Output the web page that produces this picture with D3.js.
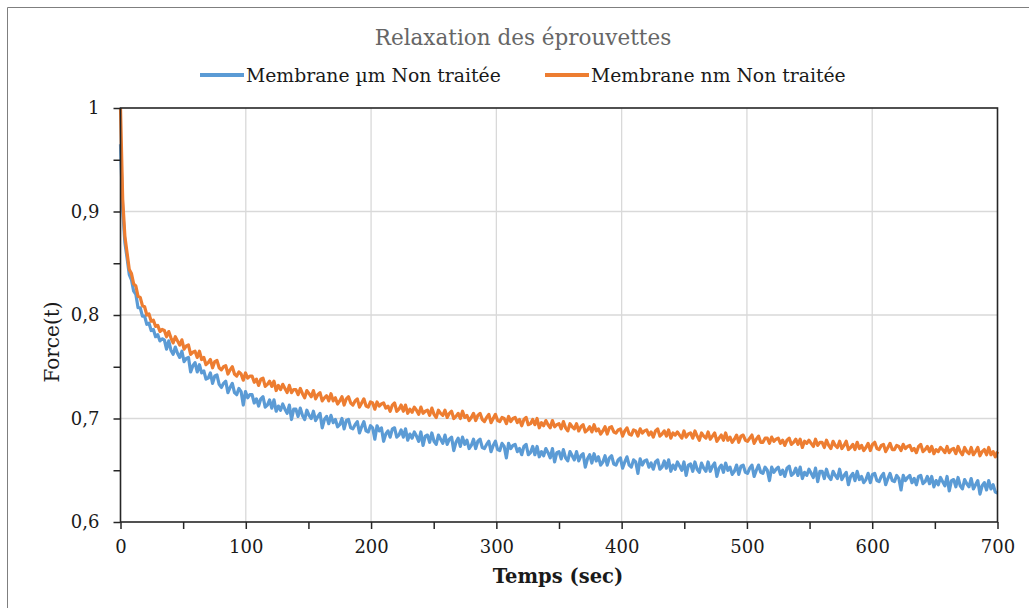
<!DOCTYPE html>
<html>
<head>
<meta charset="utf-8">
<script src="https://cdn.jsdelivr.net/npm/d3@7"></script>
<style>
  html, body { margin: 0; padding: 0; background: #fff; }
  svg { display: block; }
</style>
</head>
<body>
<svg id="chart" width="1029" height="608"></svg>
<script>
const chartTitle = "Relaxation des éprouvettes";
const seriesNames = ["Membrane µm Non traitée", "Membrane nm Non traitée"];
const xTickValues = [0, 100, 200, 300, 400, 500, 600, 700];
const yTickValues = [0.6, 0.7, 0.8, 0.9, 1.0];
const yTickLabels = ["0,6", "0,7", "0,8", "0,9", "1"];
const timeStep = 1.75; // seconds between samples
const times = d3.range(0, 700 + 0.001, timeStep);

const forceMicro = [
  0.965, 0.902, 0.870, 0.855, 0.839, 0.834, 0.823, 0.820, 0.807, 0.807, 0.799, 0.799, 0.791, 0.792, 0.785, 0.786, 0.779, 0.781, 0.775, 0.777,
  0.776, 0.767, 0.775, 0.766, 0.762, 0.769, 0.763, 0.759, 0.765, 0.755, 0.758, 0.759, 0.745, 0.751, 0.754, 0.745, 0.752, 0.744, 0.746, 0.738,
  0.739, 0.744, 0.734, 0.741, 0.742, 0.733, 0.730, 0.734, 0.736, 0.725, 0.730, 0.734, 0.725, 0.723, 0.729, 0.726, 0.713, 0.726, 0.720, 0.723,
  0.723, 0.715, 0.719, 0.712, 0.719, 0.721, 0.711, 0.713, 0.718, 0.710, 0.718, 0.707, 0.712, 0.708, 0.714, 0.709, 0.705, 0.713, 0.699, 0.709,
  0.709, 0.702, 0.710, 0.703, 0.699, 0.708, 0.703, 0.700, 0.707, 0.698, 0.702, 0.705, 0.691, 0.699, 0.702, 0.695, 0.703, 0.696, 0.699, 0.692,
  0.694, 0.700, 0.690, 0.698, 0.699, 0.691, 0.690, 0.694, 0.697, 0.686, 0.692, 0.697, 0.688, 0.687, 0.693, 0.691, 0.680, 0.693, 0.688, 0.691,
  0.678, 0.685, 0.688, 0.682, 0.690, 0.691, 0.682, 0.684, 0.689, 0.682, 0.690, 0.679, 0.685, 0.681, 0.687, 0.683, 0.678, 0.687, 0.674, 0.683,
  0.684, 0.677, 0.686, 0.678, 0.675, 0.684, 0.680, 0.676, 0.684, 0.675, 0.680, 0.682, 0.669, 0.677, 0.681, 0.673, 0.682, 0.675, 0.679, 0.671,
  0.674, 0.680, 0.671, 0.678, 0.680, 0.672, 0.671, 0.675, 0.678, 0.668, 0.674, 0.678, 0.670, 0.669, 0.676, 0.673, 0.662, 0.676, 0.671, 0.674,
  0.675, 0.668, 0.671, 0.665, 0.673, 0.675, 0.665, 0.667, 0.673, 0.665, 0.673, 0.663, 0.668, 0.664, 0.671, 0.667, 0.662, 0.671, 0.658, 0.667,
  0.668, 0.661, 0.670, 0.662, 0.659, 0.668, 0.664, 0.660, 0.668, 0.659, 0.664, 0.666, 0.653, 0.661, 0.665, 0.657, 0.666, 0.659, 0.663, 0.655,
  0.658, 0.664, 0.655, 0.662, 0.664, 0.656, 0.655, 0.660, 0.662, 0.652, 0.658, 0.663, 0.655, 0.653, 0.660, 0.658, 0.647, 0.661, 0.655, 0.659,
  0.660, 0.653, 0.657, 0.651, 0.658, 0.660, 0.651, 0.653, 0.659, 0.652, 0.660, 0.649, 0.655, 0.651, 0.658, 0.654, 0.650, 0.658, 0.645, 0.655,
  0.656, 0.649, 0.658, 0.651, 0.648, 0.657, 0.652, 0.649, 0.658, 0.649, 0.654, 0.657, 0.644, 0.652, 0.655, 0.648, 0.657, 0.650, 0.653, 0.646,
  0.649, 0.655, 0.646, 0.654, 0.655, 0.648, 0.647, 0.652, 0.655, 0.644, 0.650, 0.655, 0.648, 0.647, 0.653, 0.650, 0.640, 0.653, 0.648, 0.651,
  0.653, 0.646, 0.650, 0.644, 0.652, 0.654, 0.645, 0.647, 0.652, 0.645, 0.653, 0.642, 0.648, 0.645, 0.651, 0.647, 0.643, 0.652, 0.639, 0.649,
  0.649, 0.642, 0.651, 0.644, 0.641, 0.649, 0.645, 0.642, 0.651, 0.641, 0.645, 0.648, 0.636, 0.644, 0.647, 0.640, 0.649, 0.641, 0.644, 0.638,
  0.641, 0.647, 0.638, 0.646, 0.647, 0.640, 0.639, 0.644, 0.647, 0.636, 0.642, 0.647, 0.640, 0.639, 0.645, 0.642, 0.631, 0.645, 0.640, 0.643,
  0.645, 0.638, 0.642, 0.636, 0.644, 0.645, 0.637, 0.639, 0.644, 0.637, 0.644, 0.634, 0.640, 0.636, 0.643, 0.639, 0.635, 0.644, 0.630, 0.640,
  0.641, 0.634, 0.643, 0.635, 0.632, 0.641, 0.637, 0.634, 0.642, 0.632, 0.636, 0.640, 0.627, 0.635, 0.638, 0.631, 0.640, 0.632, 0.636, 0.629,
  0.628
];

const forceNano = [
  1.000, 0.912, 0.876, 0.860, 0.844, 0.840, 0.830, 0.828, 0.818, 0.817, 0.809, 0.808, 0.800, 0.801, 0.794, 0.795, 0.789, 0.790, 0.784, 0.786,
  0.785, 0.779, 0.784, 0.778, 0.773, 0.779, 0.775, 0.771, 0.776, 0.767, 0.770, 0.771, 0.762, 0.764, 0.765, 0.759, 0.765, 0.757, 0.759, 0.752,
  0.754, 0.757, 0.749, 0.755, 0.756, 0.749, 0.747, 0.750, 0.751, 0.743, 0.747, 0.750, 0.743, 0.741, 0.745, 0.743, 0.737, 0.744, 0.739, 0.741,
  0.741, 0.735, 0.738, 0.732, 0.738, 0.739, 0.731, 0.733, 0.736, 0.731, 0.736, 0.727, 0.732, 0.728, 0.733, 0.729, 0.725, 0.732, 0.725, 0.728,
  0.728, 0.723, 0.729, 0.724, 0.720, 0.727, 0.724, 0.721, 0.727, 0.719, 0.723, 0.725, 0.717, 0.720, 0.722, 0.717, 0.724, 0.717, 0.720, 0.714,
  0.717, 0.721, 0.713, 0.719, 0.721, 0.715, 0.713, 0.717, 0.719, 0.711, 0.715, 0.719, 0.712, 0.711, 0.716, 0.715, 0.709, 0.716, 0.712, 0.714,
  0.715, 0.710, 0.712, 0.707, 0.713, 0.715, 0.707, 0.709, 0.713, 0.707, 0.713, 0.705, 0.709, 0.706, 0.711, 0.708, 0.704, 0.711, 0.705, 0.707,
  0.708, 0.703, 0.710, 0.704, 0.701, 0.708, 0.705, 0.703, 0.708, 0.701, 0.705, 0.707, 0.700, 0.702, 0.705, 0.700, 0.707, 0.701, 0.703, 0.698,
  0.701, 0.705, 0.698, 0.703, 0.705, 0.699, 0.697, 0.701, 0.704, 0.696, 0.700, 0.704, 0.698, 0.697, 0.701, 0.700, 0.695, 0.702, 0.697, 0.700,
  0.701, 0.696, 0.699, 0.693, 0.699, 0.701, 0.694, 0.695, 0.699, 0.694, 0.700, 0.691, 0.696, 0.693, 0.698, 0.694, 0.691, 0.698, 0.692, 0.694,
  0.695, 0.690, 0.697, 0.691, 0.688, 0.695, 0.692, 0.690, 0.695, 0.688, 0.692, 0.694, 0.687, 0.689, 0.692, 0.687, 0.694, 0.688, 0.690, 0.685,
  0.688, 0.692, 0.685, 0.691, 0.692, 0.687, 0.686, 0.689, 0.690, 0.683, 0.688, 0.691, 0.685, 0.684, 0.689, 0.688, 0.683, 0.690, 0.686, 0.688,
  0.689, 0.684, 0.687, 0.682, 0.688, 0.690, 0.683, 0.685, 0.688, 0.683, 0.689, 0.681, 0.686, 0.684, 0.687, 0.684, 0.681, 0.688, 0.682, 0.685,
  0.686, 0.681, 0.688, 0.683, 0.679, 0.686, 0.683, 0.681, 0.687, 0.680, 0.683, 0.686, 0.678, 0.681, 0.684, 0.679, 0.686, 0.679, 0.682, 0.677,
  0.680, 0.684, 0.677, 0.683, 0.684, 0.679, 0.678, 0.681, 0.684, 0.676, 0.680, 0.683, 0.677, 0.677, 0.681, 0.681, 0.676, 0.682, 0.678, 0.680,
  0.681, 0.676, 0.679, 0.674, 0.679, 0.681, 0.675, 0.677, 0.680, 0.675, 0.680, 0.672, 0.678, 0.676, 0.679, 0.676, 0.673, 0.680, 0.674, 0.677,
  0.677, 0.672, 0.679, 0.674, 0.671, 0.678, 0.674, 0.672, 0.678, 0.671, 0.674, 0.678, 0.670, 0.672, 0.675, 0.670, 0.677, 0.671, 0.674, 0.669,
  0.672, 0.676, 0.669, 0.675, 0.677, 0.671, 0.670, 0.674, 0.675, 0.668, 0.672, 0.676, 0.670, 0.670, 0.674, 0.673, 0.669, 0.675, 0.671, 0.673,
  0.674, 0.669, 0.671, 0.667, 0.673, 0.675, 0.668, 0.670, 0.673, 0.668, 0.673, 0.666, 0.670, 0.668, 0.672, 0.670, 0.667, 0.673, 0.667, 0.670,
  0.671, 0.666, 0.673, 0.668, 0.665, 0.672, 0.668, 0.666, 0.672, 0.665, 0.668, 0.672, 0.664, 0.668, 0.670, 0.665, 0.672, 0.665, 0.668, 0.663,
  0.668
];

const colors = ["#5B9BD5", "#ED7D31"];
const seriesValues = [forceMicro, forceNano];

const svg = d3.select("#chart");
const serif = "'DejaVu Serif', serif";

// outer chart border (left and top visible)
svg.append("line").attr("x1", 7.5).attr("x2", 7.5).attr("y1", 7.5).attr("y2", 620)
  .attr("stroke", "#7f7f7f").attr("stroke-width", 1);
svg.append("line").attr("x1", 7.5).attr("x2", 1040).attr("y1", 7.5).attr("y2", 7.5)
  .attr("stroke", "#7f7f7f").attr("stroke-width", 1);

const x = d3.scaleLinear().domain([0, 700]).range([120.5, 997.5]);
const y = d3.scaleLinear().domain([0.6, 1.0]).range([522, 108]);

// gridlines
svg.append("g").selectAll("line").data(xTickValues.slice(1, -1)).join("line")
  .attr("x1", d => x(d)).attr("x2", d => x(d)).attr("y1", y(1)).attr("y2", y(0.6))
  .attr("stroke", "#d9d9d9").attr("stroke-width", 1.3);
svg.append("g").selectAll("line").data(yTickValues.slice(1, -1)).join("line")
  .attr("x1", x(0)).attr("x2", x(700)).attr("y1", d => y(d)).attr("y2", d => y(d))
  .attr("stroke", "#d9d9d9").attr("stroke-width", 1.3);

// series
const line = d3.line().x((d, i) => x(times[i])).y(d => y(d));
seriesValues.forEach((vals, k) => {
  svg.append("path").datum(vals).attr("d", line)
    .attr("fill", "none").attr("stroke", colors[k]).attr("stroke-width", 3.2)
    .attr("stroke-linejoin", "round");
});

// frame
svg.append("rect").attr("x", x(0)).attr("y", y(1)).attr("width", x(700) - x(0)).attr("height", y(0.6) - y(1))
  .attr("fill", "none").attr("stroke", "#262626").attr("stroke-width", 1.6);

// y axis
const yMinor = [0.6, 0.65, 0.7, 0.75, 0.8, 0.85, 0.9, 0.95, 1.0];
const yAxis = d3.axisLeft(y).tickValues(yMinor).tickSize(7).tickPadding(14)
  .tickFormat(d => {
    const idx = yTickValues.findIndex(v => Math.abs(v - d) < 1e-9);
    return idx >= 0 ? yTickLabels[idx] : "";
  });
const gy = svg.append("g").attr("transform", `translate(${x(0)},0)`).call(yAxis);
gy.select(".domain").remove();
gy.selectAll(".tick line").attr("stroke", "#262626").attr("stroke-width", 1.5);
gy.selectAll("text").attr("font-family", serif).attr("font-size", 18).attr("fill", "#1a1a1a");

// x axis
const xMinor = d3.range(0, 701, 50);
const xAxis = d3.axisBottom(x).tickValues(xMinor).tickSize(7).tickPadding(11)
  .tickFormat(d => xTickValues.includes(d) ? String(d) : "");
const gx = svg.append("g").attr("transform", `translate(0,${y(0.6)})`).call(xAxis);
gx.select(".domain").remove();
gx.selectAll(".tick line").attr("stroke", "#262626").attr("stroke-width", 1.5);
gx.selectAll("text").attr("font-family", serif).attr("font-size", 18).attr("fill", "#1a1a1a");

// title
svg.append("text").attr("x", 523).attr("y", 45).attr("text-anchor", "middle")
  .attr("font-family", serif).attr("font-size", 21.5).attr("fill", "#666")
  .text(chartTitle);

// legend
const legendX = [200, 545];
seriesNames.forEach((name, k) => {
  svg.append("line").attr("x1", legendX[k]).attr("x2", legendX[k] + 44)
    .attr("y1", 75).attr("y2", 75).attr("stroke", colors[k]).attr("stroke-width", 4);
  svg.append("text").attr("x", legendX[k] + 46).attr("y", 82)
    .attr("font-family", serif).attr("font-size", 18.8).attr("fill", "#1a1a1a").text(name);
});

// axis titles
svg.append("text").attr("transform", "translate(59,342) rotate(-90)").attr("text-anchor", "middle")
  .attr("font-family", serif).attr("font-size", 20).attr("fill", "#1a1a1a").text("Force(t)");
svg.append("text").attr("x", 558).attr("y", 583).attr("text-anchor", "middle")
  .attr("font-family", serif).attr("font-size", 19.5).attr("font-weight", "bold").attr("fill", "#1a1a1a")
  .text("Temps (sec)");
</script>
</body>
</html>
